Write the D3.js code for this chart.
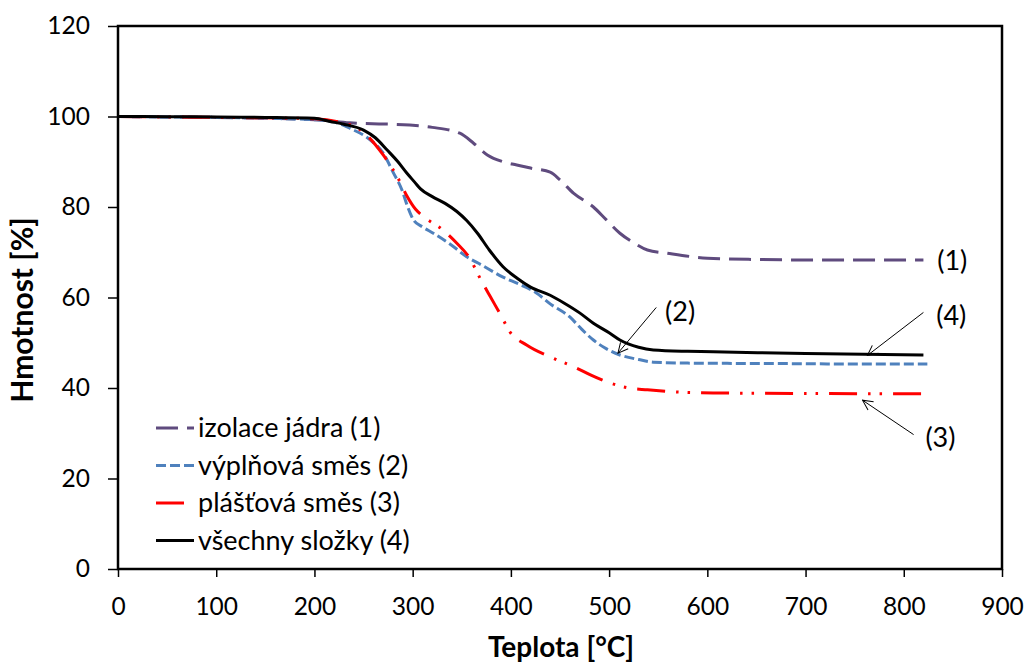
<!DOCTYPE html>
<html><head><meta charset="utf-8">
<script src="https://cdn.jsdelivr.net/npm/d3@7"></script>
<style>body{margin:0;background:#fff}svg{display:block}text{font-family:Lato,"Open Sans",sans-serif}</style>
</head><body><svg id="c" width="1029" height="662"></svg>
<script>
const xTicks=[0,100,200,300,400,500,600,700,800,900];
const yTicks=[0,20,40,60,80,100,120];
const names=["izolace jádra (1)","výplňová směs (2)","plášťová směs (3)","všechny složky (4)"];
const colors=["#5F4B7E","#4F81BD","#FF0000","#000000"];
const dashes=["22,9","10,4","28,11,2.5,9,2.5,11",null];

const temps1=[0,50,100,150,200,236,297,320,348,362,376,392,406,420,440,450,464,484,497,511,525,539,559,600,650,700,820];
const vals1=[100,99.9,99.8,99.6,99.3,98.6,98.1,97.6,96.3,94.1,91.5,90.0,89.3,88.6,87.7,86.0,83.0,80.0,77.2,74.2,72.1,70.5,69.8,68.7,68.4,68.3,68.3];
const temps2=[0,50,100,150,200,216,236,257,270,280,289,295,301,310,321,340,355,370,392,410,426,440,460,472,484,497,511,530,545,580,674,750,824];
const vals2=[100,99.9,99.8,99.6,99.3,99.0,97.4,94.8,91.9,87.7,83.8,80,77.1,75.6,74.2,71.5,69.0,67.2,64.5,62.8,61.0,58.6,55.7,53.0,50.6,48.7,47.3,46.3,45.7,45.5,45.4,45.3,45.3];
const temps3=[0,50,100,150,200,230,245,253,270,285,294,303,311,331,345,358,368,379,390,399,416,443,467,481,501,520,539,570,606,700,820];
const vals3=[100,99.9,99.8,99.7,99.5,98.5,97.3,95.9,91.5,86.4,82.5,79.5,77.9,74.9,72.0,68.7,64.5,60.2,56.0,52.4,49.5,46.6,44.4,42.9,41.1,40.0,39.6,39.1,38.9,38.8,38.7];
const temps4=[0,50,100,150,200,216,230,250,262,274,285,294,302,308,320,333,345,355,366,378,392,406,420,440,454,470,484,500,511,530,545,580,606,700,820];
const vals4=[100,99.95,99.9,99.8,99.6,98.9,98.3,97.0,95.3,92.6,90.0,87.5,85.5,84.0,82.3,80.8,79.0,77.0,74.2,70.5,66.8,64.3,62.3,60.5,58.8,56.6,54.3,52.2,50.6,49.0,48.4,48.1,48.0,47.6,47.3];
const series=[[temps1,vals1],[temps2,vals2],[temps3,vals3],[temps4,vals4]];

const labels=["(1)","(2)","(3)","(4)"];
const labelPos=[[834,68.0],[557,56.8],[822,28.9],[833,55.9]];
const arrowFrom=[null,[548,57.8],[810,29.7],[820,56.7]];
const arrowTo=[null,[509,47.7],[758,37.3],[763,47.2]];

const svg=d3.select("#c");
const L=118,R=1002,T=26,B=569;
const x=d3.scaleLinear().domain([0,900]).range([L,R]);
const y=d3.scaleLinear().domain([0,120]).range([B,T]);

svg.append("defs").append("marker").attr("id","ah").attr("viewBox","0 0 12 12")
 .attr("refX",11).attr("refY",6).attr("markerWidth",12).attr("markerHeight",12)
 .attr("markerUnits","userSpaceOnUse").attr("orient","auto")
 .append("path").attr("d","M1,1 L11,6 L1,11").attr("fill","none").attr("stroke","#000").attr("stroke-width",1);

const ax=svg.append("g").attr("transform",`translate(0,${B})`).call(d3.axisBottom(x).tickValues(xTicks).tickSize(8).tickSizeOuter(0).tickPadding(21));
const ay=svg.append("g").attr("transform",`translate(${L},0)`).call(d3.axisLeft(y).tickValues(yTicks).tickSize(10).tickSizeOuter(0).tickPadding(18));
[ax,ay].forEach(g=>{g.select(".domain").remove();g.selectAll("line").attr("stroke","#000").attr("stroke-width",1.5);
 g.selectAll("text").attr("font-size",24.5).attr("fill","#000").attr("font-family","Lato");});

svg.append("rect").attr("x",L).attr("y",T).attr("width",R-L).attr("height",B-T).attr("fill","none").attr("stroke","#000").attr("stroke-width",2.5);

const line=d3.line().x(d=>x(d[0])).y(d=>y(d[1])).curve(d3.curveMonotoneX);
series.forEach((s,i)=>{
 const pts=s[0].map((t,j)=>[t,s[1][j]]);
 svg.append("path").attr("d",line(pts)).attr("fill","none").attr("stroke",colors[i])
  .attr("stroke-width",3).attr("stroke-dasharray",dashes[i]).attr("stroke-linejoin","round");
});

const lg=svg.append("g");
names.forEach((n,i)=>{
 const yy=428+i*37.5;
 lg.append("line").attr("x1",156).attr("x2",194).attr("y1",yy).attr("y2",yy).attr("stroke",colors[i]).attr("stroke-width",3).attr("stroke-dasharray",dashes[i]);
 lg.append("text").attr("x",198).attr("y",yy+9).attr("font-size",27).text(n);
});

labels.forEach((lab,i)=>{
 svg.append("text").attr("x",x(labelPos[i][0])).attr("y",y(labelPos[i][1])+9).attr("font-size",27).text(lab);
 if(arrowFrom[i]){
  svg.append("line").attr("x1",x(arrowFrom[i][0])).attr("y1",y(arrowFrom[i][1])).attr("x2",x(arrowTo[i][0])).attr("y2",y(arrowTo[i][1]))
   .attr("stroke","#000").attr("stroke-width",1).attr("marker-end","url(#ah)");
 }
});

svg.append("text").attr("x",561).attr("y",657).attr("text-anchor","middle").attr("font-size",28).attr("font-weight","bold").text("Teplota [°C]");
svg.append("text").attr("transform",`translate(33,310) rotate(-90)`).attr("text-anchor","middle").attr("font-size",30).attr("font-weight","bold").text("Hmotnost [%]");
</script></body></html>
